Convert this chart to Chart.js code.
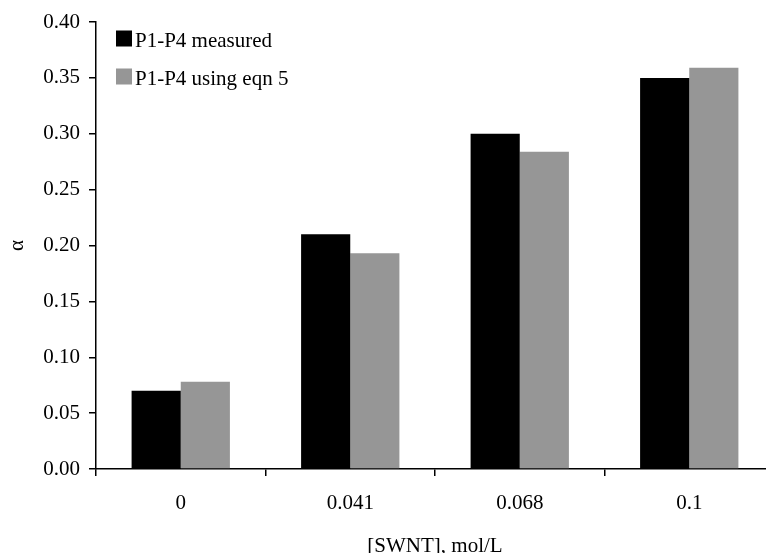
<!DOCTYPE html>
<html>
<head>
<meta charset="utf-8">
<script src="https://cdn.jsdelivr.net/npm/chart.js@4.4.1/dist/chart.umd.min.js"></script>
<style>
  html, body { margin: 0; padding: 0; background: #fff; overflow: hidden; }
  #wrap { width: 780px; height: 559px; }
</style>
</head>
<body>
<div id="wrap"><canvas id="grafica" width="780" height="559"></canvas></div>
<script>
    // data
    let categorias = ["0", "0.041", "0.068", "0.1"];
    let medido = [0.070, 0.210, 0.300, 0.350];
    let ecuacion5 = [0.078, 0.193, 0.284, 0.359];
    let yTicks = [0, 0.05, 0.10, 0.15, 0.20, 0.25, 0.30, 0.35, 0.40];

    let fuente = "'Liberation Serif', 'Times New Roman', serif";

    // legend drawn inside the plot, top-left, like the original figure
    let leyenda = {
        id: "leyenda",
        afterDraw: function (chart) {
            let ctx = chart.ctx;
            let area = chart.chartArea;
            ctx.save();
            ctx.font = "21px " + fuente;
            ctx.textBaseline = "alphabetic";
            ctx.textAlign = "left";
            chart.data.datasets.forEach(function (ds, i) {
                let y = area.top + 8.5 + i * 38;
                ctx.fillStyle = ds.backgroundColor;
                ctx.fillRect(area.left + 20, y, 16, 16);
                ctx.fillStyle = "#000";
                ctx.fillText(ds.label, area.left + 39, y + 16);
            });
            ctx.restore();
        }
    };

    let ctx = document.getElementById("grafica").getContext("2d");
    let miGrafica = new Chart(ctx, {
        type: "bar",
        data: {
            labels: categorias,
            datasets: [{
                label: "P1-P4 measured",
                data: medido,
                backgroundColor: "#000000",
                borderWidth: 0
            },
            {
                label: "P1-P4 using eqn 5",
                data: ecuacion5,
                backgroundColor: "#969696",
                borderWidth: 0
            }]
        },
        plugins: [leyenda],
        options: {
            responsive: false,
            animation: false,
            layout: {
                padding: { left: 0, top: 22, right: 6, bottom: 0 }
            },
            datasets: {
                bar: { barPercentage: 1.0, categoryPercentage: 0.58 }
            },
            plugins: {
                tooltip: { enabled: false },
                legend: { display: false }
            },
            scales: {
                x: {
                    afterFit: function (axis) { axis.height = 90; },
                    grid: {
                        display: true,
                        drawOnChartArea: false,
                        drawTicks: true,
                        tickLength: 7,
                        color: "#000",
                        lineWidth: 1.5
                    },
                    border: { color: "#000", width: 1.5 },
                    ticks: {
                        color: "#000",
                        font: { family: fuente, size: 21 },
                        padding: 15
                    },
                    title: {
                        display: true,
                        text: "[SWNT], mol/L",
                        color: "#000",
                        font: { family: fuente, size: 21 },
                        padding: { top: 5, bottom: 0 }
                    }
                },
                y: {
                    min: 0,
                    max: 0.4,
                    afterFit: function (axis) { axis.width = 96; },
                    afterBuildTicks: function (axis) {
                        axis.ticks = yTicks.map(function (v) { return { value: v }; });
                    },
                    grid: {
                        display: true,
                        drawOnChartArea: false,
                        drawTicks: true,
                        tickLength: 7,
                        color: "#000",
                        lineWidth: 1.5
                    },
                    border: { color: "#000", width: 1.5 },
                    ticks: {
                        color: "#000",
                        font: { family: fuente, size: 21 },
                        padding: 9,
                        callback: function (v) { return Number(v).toFixed(2); }
                    },
                    title: {
                        display: true,
                        text: "α",
                        color: "#000",
                        font: { family: fuente, size: 21 },
                        padding: { top: 5, bottom: 0 }
                    }
                }
            }
        }
    });
</script>
</body>
</html>
